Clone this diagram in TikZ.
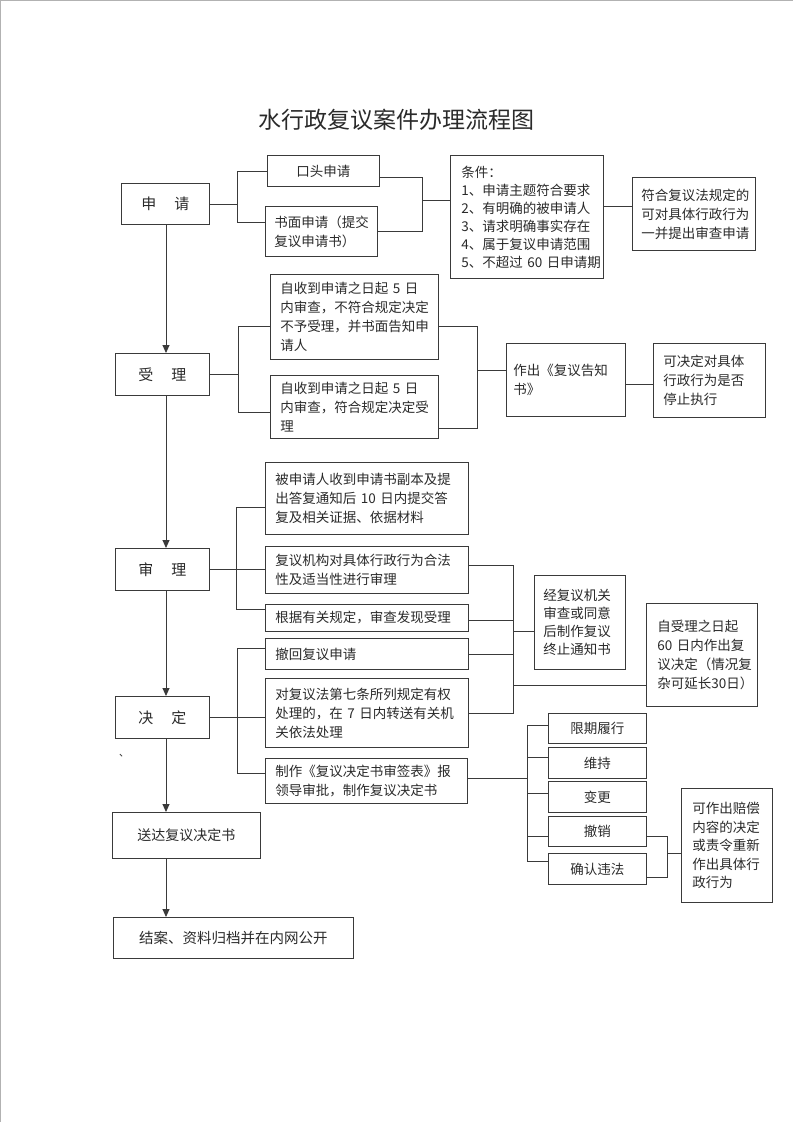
\documentclass[tikz,border=0pt]{standalone}
\usepackage{fontspec}
\newfontfamily\cjk{Noto Sans CJK SC}
\usetikzlibrary{arrows.meta,calc}
\definecolor{lc}{HTML}{3A3A3A}
\definecolor{tc}{HTML}{2A2A2A}
\begin{document}
\begin{tikzpicture}[x=1pt,y=-1pt,
  bx/.style={draw=lc, line width=0.9pt, anchor=north west, inner xsep=0pt, inner ysep=0pt, text=tc, font=\cjk\fontsize{13.5}{19}\selectfont},
  cb/.style={bx, align=center},
  lb/.style={bx, align=left},
  ln/.style={draw=lc, line width=0.9pt},
  ar/.style={ln, -{Triangle[width=7pt,length=8pt]}},
  big/.style={font=\cjk\fontsize{15}{19}\selectfont}
]
\useasboundingbox (0,0) rectangle (793,1122);
\draw[gray!60, line width=1.2pt] (0.6,1122) -- (0.6,0.6) -- (793,0.6);

\node[font=\cjk\fontsize{23}{23}\selectfont, text=tc] (title) at (396,120) {水行政复议案件办理流程图};

% ---- 申请
\node[cb, big, minimum width=88pt, minimum height=41pt] (sq) at (121,183) {申\hspace{1.2em}请};
\node[cb, minimum width=112pt, minimum height=31pt] (kt) at (267,155) {口头申请};
\node[lb, inner xsep=9pt, text width=94pt, minimum height=50pt] (sm) at (265,206) {书面申请（提交\\复议申请书）};
\node[lb, inner xsep=11pt, text width=131pt, minimum height=123pt, font=\cjk\fontsize{13.5}{18}\selectfont] (tj) at (450,155) {条件：\\1、申请主题符合要求\\2、有明确的被申请人\\3、请求明确事实存在\\4、属于复议申请范围\\5、不超过~60~日申请期};
\node[lb, inner xsep=9pt, text width=105pt, minimum height=73pt] (fh) at (632,177) {符合复议法规定的\\可对具体行政行为\\一并提出审查申请};

% ---- 受理
\node[cb, big, minimum width=94pt, minimum height=42pt] (sl) at (115,353) {受\hspace{1.2em}理};
\node[lb, inner xsep=10pt, text width=148pt, minimum height=85pt] (sl1) at (270,274) {自收到申请之日起~5~日\\内审查，不符合规定决定\\不予受理，并书面告知申\\请人};
\node[lb, inner xsep=10pt, text width=148pt, minimum height=63pt] (sl2) at (270,375) {自收到申请之日起~5~日\\内审查，符合规定决定受\\理};
\node[lb, inner xsep=7pt, text width=105pt, minimum height=73pt] (zc) at (506,343) {作出《复议告知\\书》};
\node[lb, inner xsep=10pt, text width=92pt, minimum height=74pt] (kj) at (653,343) {可决定对具体\\行政行为是否\\停止执行};

% ---- 审理
\node[cb, big, minimum width=94pt, minimum height=42pt] (sh) at (115,548) {审\hspace{1.2em}理};
\node[lb, inner xsep=10pt, text width=183pt, minimum height=72pt] (sh1) at (265,462) {被申请人收到申请书副本及提\\出答复通知后~10~日内提交答\\复及相关证据、依据材料};
\node[lb, inner xsep=10pt, text width=183pt, minimum height=47pt] (sh2) at (265,546) {复议机构对具体行政行为合法\\性及适当性进行审理};
\node[lb, inner xsep=10pt, text width=183pt, minimum height=27pt] (sh3) at (265,604) {根据有关规定，审查发现受理};
\node[lb, inner xsep=9pt, text width=73pt, minimum height=94pt, font=\cjk\fontsize{13.5}{18}\selectfont] (jf) at (534,575) {经复议机关\\审查或同意\\后制作复议\\终止通知书};
\node[lb, inner xsep=11pt, text width=89pt, minimum height=103pt] (zs) at (646,603) {自受理之日起\\60~日内作出复\\议决定（情况复\\杂可延长30日）};

% ---- 决定
\node[cb, big, minimum width=94pt, minimum height=42pt] (jd) at (115,696) {决\hspace{1.2em}定};
\node[lb, inner xsep=10pt, text width=183pt, minimum height=31pt] (ch) at (265,638) {撤回复议申请};
\node[lb, inner xsep=10pt, text width=183pt, minimum height=69pt] (df) at (265,678) {对复议法第七条所列规定有权\\处理的，在~7~日内转送有关机\\关依法处理};
\node[lb, inner xsep=10pt, text width=182pt, minimum height=45pt] (zz) at (265,758) {制作《复议决定书审签表》报\\领导审批，制作复议决定书};
\node[text=tc, font=\cjk\fontsize{10}{10}\selectfont] (dot) at (124,756) {、};

\node[cb, minimum width=98pt, minimum height=30pt] (xq) at (548,713) {限期履行};
\node[cb, minimum width=98pt, minimum height=31pt] (wc) at (548,747) {维持};
\node[cb, minimum width=98pt, minimum height=31pt] (bg) at (548,781) {变更};
\node[cb, minimum width=98pt, minimum height=30pt] (cx) at (548,816) {撤销};
\node[cb, minimum width=98pt, minimum height=31pt] (qr) at (548,853) {确认违法};
\node[lb, inner xsep=11pt, text width=69pt, minimum height=114pt, font=\cjk\fontsize{13.5}{18.5}\selectfont] (pc) at (681,788) {可作出赔偿\\内容的决定\\或责令重新\\作出具体行\\政行为};

% ---- 送达 / 结案
\node[cb, minimum width=148pt, minimum height=46pt, font=\cjk\fontsize{14}{19}\selectfont] (sd) at (112,812) {送达复议决定书};
\node[cb, minimum width=240pt, minimum height=41pt, font=\cjk\fontsize{14.5}{19}\selectfont] (ja) at (113,917) {结案、资料归档并在内网公开};

% ---- trunk
\coordinate (T) at (166,0);
\draw[ar] (sq.south -| T) -- (sl.north -| T);
\draw[ar] (sl.south -| T) -- (sh.north -| T);
\draw[ar] (sh.south -| T) -- (jd.north -| T);
\draw[ar] (jd.south -| T) -- (sd.north -| T);
\draw[ar] (sd.south -| T) -- (ja.north -| T);

% ---- group A
\coordinate (J1) at (237,0);
\coordinate (a1) at ($(sm.west)+(0,-9)$);
\coordinate (a2) at ($(kt.east)+(0,6)$);
\coordinate (J2) at (422,200);
\coordinate (a3) at ($(fh.west)+(0,-8)$);
\draw[ln] (sq.east) -- (sq.east -| J1);
\draw[ln] (kt.west) -- (kt.west -| J1) -- (a1 -| J1) -- (a1);
\draw[ln] (a2) -- (a2 -| J2) -- (sm.east -| J2) -- (sm.east);
\draw[ln] (J2) -- (J2 -| tj.west);
\draw[ln] (a3 -| tj.east) -- (a3);

% ---- group B
\coordinate (J3) at (238,0);
\coordinate (b1) at ($(sl1.west)+(0,9.5)$);
\coordinate (b2) at ($(sl2.west)+(0,5.5)$);
\draw[ln] (sl.east) -- (sl.east -| J3);
\draw[ln] (b1) -- (b1 -| J3) -- (b2 -| J3) -- (b2);
\coordinate (b3) at ($(sl1.east)+(0,9.5)$);
\coordinate (b4) at ($(sl2.east)+(0,21.5)$);
\coordinate (J4) at (477,370);
\draw[ln] (b3) -- (b3 -| J4) -- (b4 -| J4) -- (b4);
\draw[ln] (J4) -- (J4 -| zc.west);
\coordinate (b5) at ($(kj.west)+(0,4)$);
\draw[ln] (b5 -| zc.east) -- (b5);

% ---- group C
\coordinate (J5) at (236,0);
\draw[ln] (sh.east) -- (sh.east -| sh2.west);
\coordinate (c1) at ($(sh1.west)+(0,9)$);
\coordinate (c2) at ($(sh3.west)+(0,-8.5)$);
\draw[ln] (c1) -- (c1 -| J5) -- (c2 -| J5) -- (c2);
\coordinate (J6) at (513,0);
\coordinate (c3) at ($(sh2.east)+(0,-4.5)$);
\coordinate (c4) at ($(sh3.east)+(0,2.5)$);
\draw[ln] (c3) -- (c3 -| J6) -- (df.east -| J6) -- (df.east);
\draw[ln] (c4) -- (c4 -| J6);
\draw[ln] (ch.east) -- (ch.east -| J6);
\coordinate (c5) at ($(jf.west)+(0,9)$);
\draw[ln] (c5 -| J6) -- (c5);
\coordinate (c6) at ($(zs.west)+(0,30.5)$);
\draw[ln] (c6 -| J6) -- (c6);

% ---- group D
\coordinate (J7) at (237,0);
\draw[ln] (jd.east) -- (jd.east -| df.west);
\coordinate (d1) at ($(ch.west)+(0,-5.5)$);
\coordinate (d2) at ($(zz.west)+(0,-7.5)$);
\draw[ln] (d1) -- (d1 -| J7) -- (d2 -| J7) -- (d2);
\coordinate (J8) at (527,0);
\coordinate (d0) at ($(zz.east)+(0,-2.5)$);
\coordinate (d3) at ($(xq.west)+(0,-3)$);
\coordinate (d4) at ($(wc.west)+(0,-5.5)$);
\coordinate (d5) at ($(bg.west)+(0,-3.5)$);
\coordinate (d6) at ($(cx.west)+(0,5)$);
\coordinate (d7) at ($(qr.west)+(0,-7.5)$);
\draw[ln] (d0) -- (d0 -| J8);
\draw[ln] (d3) -- (d3 -| J8) -- (d7 -| J8) -- (d7);
\draw[ln] (d4 -| J8) -- (d4);
\draw[ln] (d5 -| J8) -- (d5);
\draw[ln] (d6 -| J8) -- (d6);
\coordinate (J9) at (667,853);
\coordinate (d8) at ($(cx.east)+(0,5)$);
\coordinate (d9) at ($(qr.east)+(0,8.5)$);
\draw[ln] (d8) -- (d8 -| J9) -- (d9 -| J9) -- (d9);
\draw[ln] (J9) -- (J9 -| pc.west);
\end{tikzpicture}
\end{document}
